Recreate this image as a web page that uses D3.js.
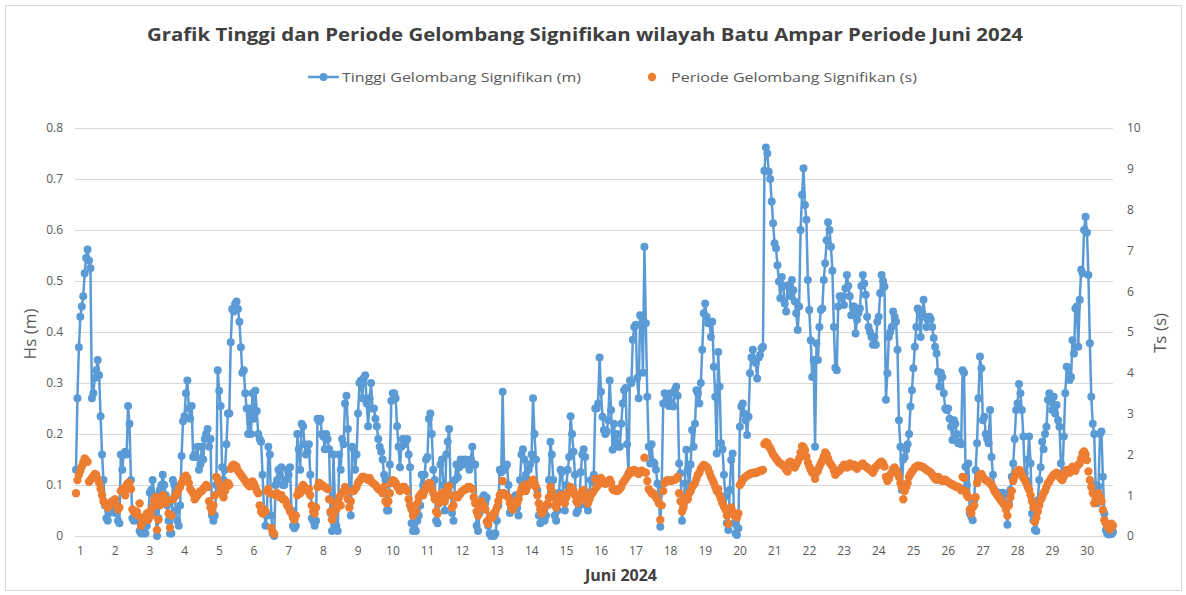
<!DOCTYPE html>
<html>
<head>
<meta charset="utf-8">
<script src="https://cdn.jsdelivr.net/npm/d3@7"></script>
<style>
  body { margin: 0; background: #fff; }
  text { font-family: "Open Sans", sans-serif; }
</style>
</head>
<body>
<div id="chart"></div>
<script>
// day labels on the x axis, one per 24 hourly readings
var days = d3.range(1, 31);
var hsTicks = [0, 0.1, 0.2, 0.3, 0.4, 0.5, 0.6, 0.7, 0.8];
var tsTicks = [0, 1, 2, 3, 4, 5, 6, 7, 8, 9, 10];

// hourly significant wave height (m), one line per day
var hs = [
  .13,.27,.37,.43,.45,.47,.515,.545,.562,.54,.525,.27,.28,.31,.325,.345,.315,.235,.16,.11,.06,.035,.03,.045,
  .06,.05,.055,.045,.05,.03,.025,.16,.13,.16,.165,.16,.255,.22,.11,.035,.03,.035,.04,.03,.01,.005,.01,.005,
  .005,.02,.04,.085,.09,.11,.08,.05,0,.035,.09,.1,.12,.1,.08,.06,.03,.005,.005,.11,.1,.05,.03,.02,
  .06,.157,.225,.235,.28,.305,.25,.23,.255,.155,.16,.155,.175,.13,.14,.175,.15,.19,.2,.21,.175,.19,.04,.03,
  .04,.1,.325,.285,.255,.135,.11,.13,.18,.24,.24,.38,.445,.44,.455,.46,.445,.42,.37,.32,.325,.28,.25,.2,
  .25,.2,.28,.23,.285,.245,.2,.19,.185,.12,.05,.02,.04,.175,.16,.04,.005,0,.1,.11,.13,.12,.135,.1,
  .1,.11,.13,.12,.135,.05,.02,.015,.02,.2,.17,.13,.22,.215,.18,.16,.165,.18,.12,.035,.03,.02,.03,.23,
  .225,.23,.2,.195,.17,.2,.19,.17,.045,.01,.16,.07,.02,.01,.16,.13,.19,.18,.26,.275,.21,.09,.04,.175,
  .17,.13,.16,.24,.3,.305,.27,.31,.315,.26,.215,.27,.3,.25,.25,.23,.215,.19,.175,.165,.15,.12,.11,.05,
  .05,.14,.265,.28,.28,.27,.215,.175,.135,.175,.19,.18,.185,.19,.16,.135,.025,.01,.015,.01,.03,.04,.06,.12,
  .1,.12,.15,.155,.23,.24,.2,.13,.11,.03,.025,.065,.14,.15,.1,.05,.16,.185,.21,.1,.045,.03,.11,.14,
  .115,.135,.15,.145,.14,.15,.145,.14,.13,.15,.175,.14,.14,.02,.01,.045,.06,.075,.08,.065,.075,.02,.005,0,
  .005,0,.005,.03,.06,.13,.125,.283,.13,.135,.14,.1,.045,.05,.06,.075,.08,.055,.04,.11,.16,.17,.15,.12,
  .11,.13,.14,.16,.27,.2,.15,.09,.04,.025,.035,.05,.03,.04,.06,.11,.185,.16,.11,.04,.03,.05,.085,.13,
  .125,.08,.05,.1,.13,.155,.235,.2,.165,.12,.045,.05,.06,.125,.16,.17,.155,.06,.05,.085,.11,.105,.12,.25,
  .25,.26,.35,.283,.234,.208,.2,.205,.227,.305,.247,.169,.22,.18,.2,.175,.175,.22,.26,.286,.29,.18,.123,.305,
  .3,.385,.41,.414,.31,.27,.433,.43,.32,.567,.417,.273,.175,.142,.18,.145,.142,.13,.103,.08,.018,.1,.26,.28,
  .26,.267,.255,.28,.26,.254,.286,.293,.275,.142,.123,.03,.06,.103,.169,.13,.09,.14,.208,.175,.22,.286,.28,.26,
  .3,.365,.437,.456,.43,.417,.42,.39,.42,.332,.273,.162,.361,.293,.182,.17,.12,.077,.025,.012,.09,.149,.162,.025,
  .005,.002,.015,.214,.254,.26,.24,.227,.198,.234,.319,.35,.365,.345,.339,.309,.35,.355,.368,.371,.716,.762,.75,.714,
  .7,.656,.613,.574,.564,.531,.499,.466,.508,.49,.456,.44,.49,.492,.47,.502,.482,.46,.437,.404,.45,.6,.669,.721,
  .649,.62,.502,.443,.384,.312,.345,.175,.378,.345,.41,.443,.446,.502,.535,.58,.615,.6,.567,.52,.41,.33,.325,.45,
  .47,.466,.47,.453,.486,.512,.49,.47,.433,.45,.45,.397,.424,.437,.446,.49,.512,.495,.473,.43,.41,.4,.39,.375,
  .39,.375,.42,.43,.476,.512,.5,.489,.267,.319,.39,.4,.41,.44,.43,.42,.365,.227,.175,.09,.15,.155,.169,.18,
  .2,.254,.286,.329,.371,.41,.446,.44,.39,.437,.463,.43,.41,.424,.43,.425,.41,.388,.371,.358,.322,.293,.32,.312,
  .28,.25,.247,.25,.23,.214,.188,.227,.22,.2,.182,.185,.18,.325,.32,.136,.1,.142,.044,.038,.031,.07,.129,.182,
  .27,.352,.329,.227,.234,.2,.19,.182,.247,.155,.12,.09,.087,.084,.085,.082,.08,.085,.08,.054,.022,.064,.09,.116,
  .142,.19,.247,.26,.298,.28,.247,.195,.123,.11,.15,.195,.142,.044,.031,.012,.01,.07,.11,.135,.185,.17,.2,.214,
  .267,.28,.263,.247,.273,.24,.257,.227,.214,.142,.123,.195,.28,.332,.33,.306,.312,.384,.358,.446,.45,.371,.463,.522,
  .515,.6,.626,.595,.512,.378,.273,.22,.2,.1,.064,.097,.2,.205,.116,.044,.012,.005,.003,.005,.004,.008
];

// hourly significant wave period (s), same hours
var ts = [
  1.05,1.37,1.5,1.6,1.7,1.8,1.9,1.85,1.82,1.33,1.37,1.42,1.47,1.52,1.5,1.4,1.3,1.15,1.0,.85,.8,.75,.7,.8,
  .8,.85,.8,.9,.75,.65,.7,1.1,1.15,1.1,1.0,1.25,1.3,1.3,1.15,.65,.6,.55,.6,.5,.8,.25,.35,.45,
  .45,.55,.4,.6,.5,.7,.85,.95,.15,.4,.75,.85,1.0,.95,.8,.85,.55,.2,.5,.9,.95,1.0,1.05,1.15,
  1.2,1.3,1.38,1.45,1.48,1.42,1.3,1.15,1.1,1.05,.9,.95,1.0,1.05,1.1,1.1,1.15,1.2,1.25,1.2,.85,.7,.6,.75,
  1.0,1.45,1.4,1.3,1.15,1.05,.95,1.1,1.2,1.3,1.25,1.65,1.72,1.75,1.72,1.7,1.6,1.55,1.5,1.45,1.4,1.35,1.3,1.25,
  1.22,1.3,1.34,1.28,1.2,1.1,1.05,.75,.6,.55,.65,.6,1.1,1.15,1.05,.2,.1,.05,1.0,1.05,1.0,.95,1.0,.9,
  .9,.85,.75,.7,.6,.55,.45,.4,.5,1.0,1.1,1.05,1.2,1.25,1.2,1.15,1.1,1.15,1.0,.75,.6,.55,.7,1.2,
  1.3,1.28,1.25,1.22,1.2,1.18,1.15,.9,.6,.4,.5,.8,.65,.85,.95,.75,1.05,1.1,1.2,1.1,.9,.7,.85,1.1,
  1.1,1.15,1.2,1.3,1.35,1.4,1.45,1.45,1.42,1.4,1.38,1.42,1.35,1.3,1.28,1.25,1.2,1.15,1.15,1.1,1.05,1.2,.85,.8,
  .85,1.05,1.3,1.37,1.35,1.3,1.22,1.15,1.1,1.15,1.2,1.2,1.15,1.1,.9,.75,.65,.5,.55,.6,.8,.95,1.0,1.05,
  1.0,1.1,1.2,1.25,1.3,1.28,1.15,1.05,.9,.6,.55,.8,1.0,1.05,.95,.85,1.1,1.2,1.22,1.0,.7,.75,.95,1.0,
  .95,1.0,1.05,1.1,1.12,1.15,1.15,1.2,1.2,1.18,1.15,.95,.8,.6,.5,.7,.85,.8,.75,.65,.35,.3,.45,.5,
  .45,.55,.6,.7,.85,1.0,1.05,1.35,1.05,1.0,.98,.95,.8,.7,.65,.75,.85,.8,.9,1.05,1.15,1.2,1.25,1.1,
  1.2,1.25,1.3,1.35,1.38,1.3,1.2,1.0,.8,.65,.55,.6,.7,.75,.8,.95,1.2,1.1,.95,.75,.7,.8,.95,1.0,
  1.0,.9,.8,.95,1.05,1.1,1.2,1.15,1.1,1.0,.85,.8,.9,1.0,1.1,1.12,1.0,.85,.8,.9,1.0,1.05,1.1,1.4,
  1.2,1.25,1.4,1.42,1.35,1.3,1.28,1.3,1.35,1.38,1.3,1.15,1.12,1.15,1.1,1.12,1.15,1.2,1.3,1.35,1.4,1.45,1.5,1.6,
  1.55,1.6,1.62,1.6,1.55,1.52,1.55,1.6,1.58,1.92,1.55,1.35,1.15,1.1,1.05,1.05,1.0,.95,.9,.8,.4,.75,1.1,1.3,
  1.35,1.37,1.36,1.35,1.36,1.37,1.38,1.4,1.45,1.05,.85,.6,.7,.85,.95,.9,1.05,1.1,1.2,1.25,1.3,1.4,1.5,1.55,
  1.65,1.7,1.74,1.72,1.7,1.65,1.55,1.45,1.38,1.3,1.2,1.1,1.15,1.0,.9,.8,.72,.65,.5,.3,.6,.7,.6,.5,
  .5,.45,.55,1.25,1.3,1.38,1.42,1.45,1.48,1.5,1.52,1.54,1.55,1.54,1.55,1.56,1.58,1.6,1.6,1.62,2.25,2.3,2.28,2.2,
  2.15,2.07,2.0,1.95,1.9,1.85,1.8,1.78,1.75,1.72,1.7,1.62,1.58,1.8,1.82,1.78,1.72,1.68,1.75,1.82,1.9,2.05,2.2,2.18,
  2.1,1.95,1.8,1.7,1.62,1.55,1.6,1.4,1.55,1.6,1.7,1.78,1.85,1.95,2.05,2.0,1.9,1.8,1.75,1.7,1.6,1.5,1.55,1.6,
  1.6,1.65,1.7,1.75,1.72,1.68,1.72,1.78,1.75,1.7,1.75,1.72,1.65,1.7,1.72,1.75,1.78,1.72,1.7,1.68,1.65,1.62,1.6,1.55,
  1.62,1.7,1.72,1.76,1.8,1.82,1.78,1.7,1.45,1.35,1.4,1.5,1.55,1.65,1.68,1.62,1.55,1.45,1.3,1.2,.9,1.1,1.2,1.3,
  1.45,1.52,1.58,1.62,1.68,1.7,1.72,1.72,1.7,1.7,1.68,1.65,1.62,1.6,1.58,1.55,1.5,1.45,1.4,1.38,1.45,1.42,1.38,1.35,
  1.35,1.38,1.35,1.32,1.3,1.28,1.25,1.25,1.22,1.2,1.2,1.18,1.12,1.45,1.42,1.1,1.0,.95,.65,.55,.7,.75,.95,1.3,
  1.45,1.5,1.52,1.45,1.4,1.37,1.35,1.32,1.3,1.25,1.18,1.1,1.05,1.0,.95,.9,.85,.8,.76,.65,.5,.75,.95,1.1,
  1.35,1.45,1.55,1.6,1.62,1.6,1.5,1.42,1.37,1.3,1.2,1.13,1.0,.85,.7,.35,.45,.6,.75,.88,.95,1.05,1.1,1.2,
  1.3,1.33,1.4,1.45,1.5,1.52,1.55,1.5,1.45,1.4,1.37,1.45,1.55,1.62,1.6,1.55,1.65,1.7,1.65,1.6,1.7,1.75,1.78,1.9,
  2.03,2.07,2.0,1.86,1.58,1.37,1.2,1.05,.8,.9,1.0,1.05,.95,.85,.64,.39,.31,.23,.28,.16,.3,.25
];

var width = 1186, height = 595;
var blue = "#5b9bd5", orange = "#ed7d31", grey = "#595959";

var svg = d3.select("#chart").append("svg")
    .attr("width", width)
    .attr("height", height);

// chart area border
svg.append("rect")
    .attr("x", 5.5).attr("y", 5.5)
    .attr("width", 1176).attr("height", 585)
    .attr("fill", "#fff").attr("stroke", "#d9d9d9");

// x is the hour index, y scales for both axes share the same pixel range
var x = d3.scaleLinear().domain([0, hs.length - 1]).range([76, 1113]);
var yHs = d3.scaleLinear().domain([0, 0.8]).range([536, 128]);
var yTs = d3.scaleLinear().domain([0, 10]).range([536, 128]);

// left axis with gridlines
var gLeft = svg.append("g")
    .attr("transform", "translate(75,0)")
    .call(d3.axisLeft(yHs)
      .tickValues(hsTicks)
      .tickSize(-(1113 - 75))
      .tickPadding(12)
      .tickFormat(function(d) { return d === 0 ? "0" : d3.format(".1f")(d); }));
gLeft.select(".domain").remove();
gLeft.selectAll("line").attr("stroke", "#d9d9d9");
gLeft.selectAll("text").attr("fill", grey).style("font-size", "12px");

// right axis, labels only
var gRight = svg.append("g")
    .attr("transform", "translate(1113,0)")
    .call(d3.axisRight(yTs).tickValues(tsTicks).tickSize(0).tickPadding(14));
gRight.select(".domain").remove();
gRight.selectAll("text").attr("fill", grey).style("font-size", "12px");

// bottom axis: one label at the first hour of every day
var gBottom = svg.append("g")
    .attr("transform", "translate(0,536)")
    .call(d3.axisBottom(x)
      .tickValues(days.map(function(d) { return (d - 1) * 24; }))
      .tickSize(0)
      .tickPadding(10)
      .tickFormat(function(v) { return v / 24 + 1; }));
gBottom.select(".domain").remove();
gBottom.selectAll("text")
    .attr("fill", grey)
    .attr("dx", 4)
    .style("font-size", "12px");

// wave height: line with markers
var line = d3.line()
    .x(function(d, i) { return x(i); })
    .y(function(d) { return yHs(d); });

svg.append("path")
    .datum(hs)
    .attr("d", line)
    .attr("fill", "none")
    .attr("stroke", blue)
    .attr("stroke-width", 2.5)
    .attr("stroke-linejoin", "round");

svg.append("g").selectAll("circle")
    .data(hs)
    .enter().append("circle")
    .attr("cx", function(d, i) { return x(i); })
    .attr("cy", function(d) { return yHs(d); })
    .attr("r", 4)
    .attr("fill", blue);

// wave period: markers only, on the right axis
svg.append("g").selectAll("circle")
    .data(ts)
    .enter().append("circle")
    .attr("cx", function(d, i) { return x(i); })
    .attr("cy", function(d) { return yTs(d); })
    .attr("r", 4.2)
    .attr("fill", orange);

// title
svg.append("text")
    .attr("x", 147).attr("y", 41)
    .attr("textLength", 876)
    .attr("lengthAdjust", "spacingAndGlyphs")
    .attr("fill", "#404040")
    .style("font-size", "17px")
    .style("font-weight", "bold")
    .text("Grafik Tinggi dan Periode Gelombang Signifikan wilayah Batu Ampar Periode Juni 2024");

// legend
var lg = svg.append("g");
lg.append("line")
    .attr("x1", 308).attr("x2", 339).attr("y1", 77).attr("y2", 77)
    .attr("stroke", blue).attr("stroke-width", 2.5);
lg.append("circle").attr("cx", 323.5).attr("cy", 77).attr("r", 4).attr("fill", blue);
lg.append("text")
    .attr("x", 342).attr("y", 81.5)
    .attr("textLength", 239).attr("lengthAdjust", "spacingAndGlyphs")
    .attr("fill", grey).style("font-size", "13px")
    .text("Tinggi Gelombang Signifikan (m)");
lg.append("circle").attr("cx", 652).attr("cy", 77).attr("r", 4.2).attr("fill", orange);
lg.append("text")
    .attr("x", 671).attr("y", 81.5)
    .attr("textLength", 246).attr("lengthAdjust", "spacingAndGlyphs")
    .attr("fill", grey).style("font-size", "13px")
    .text("Periode Gelombang Signifikan (s)");

// axis titles
svg.append("text")
    .attr("transform", "translate(36,334) rotate(-90)")
    .attr("text-anchor", "middle")
    .attr("fill", grey).style("font-size", "17px")
    .text("Hs (m)");
svg.append("text")
    .attr("transform", "translate(1166,333) rotate(-90)")
    .attr("text-anchor", "middle")
    .attr("fill", grey).style("font-size", "17px")
    .text("Ts (s)");
svg.append("text")
    .attr("x", 621).attr("y", 581)
    .attr("text-anchor", "middle")
    .attr("fill", "#404040").style("font-size", "16px").style("font-weight", "bold")
    .text("Juni 2024");
</script>
</body>
</html>
